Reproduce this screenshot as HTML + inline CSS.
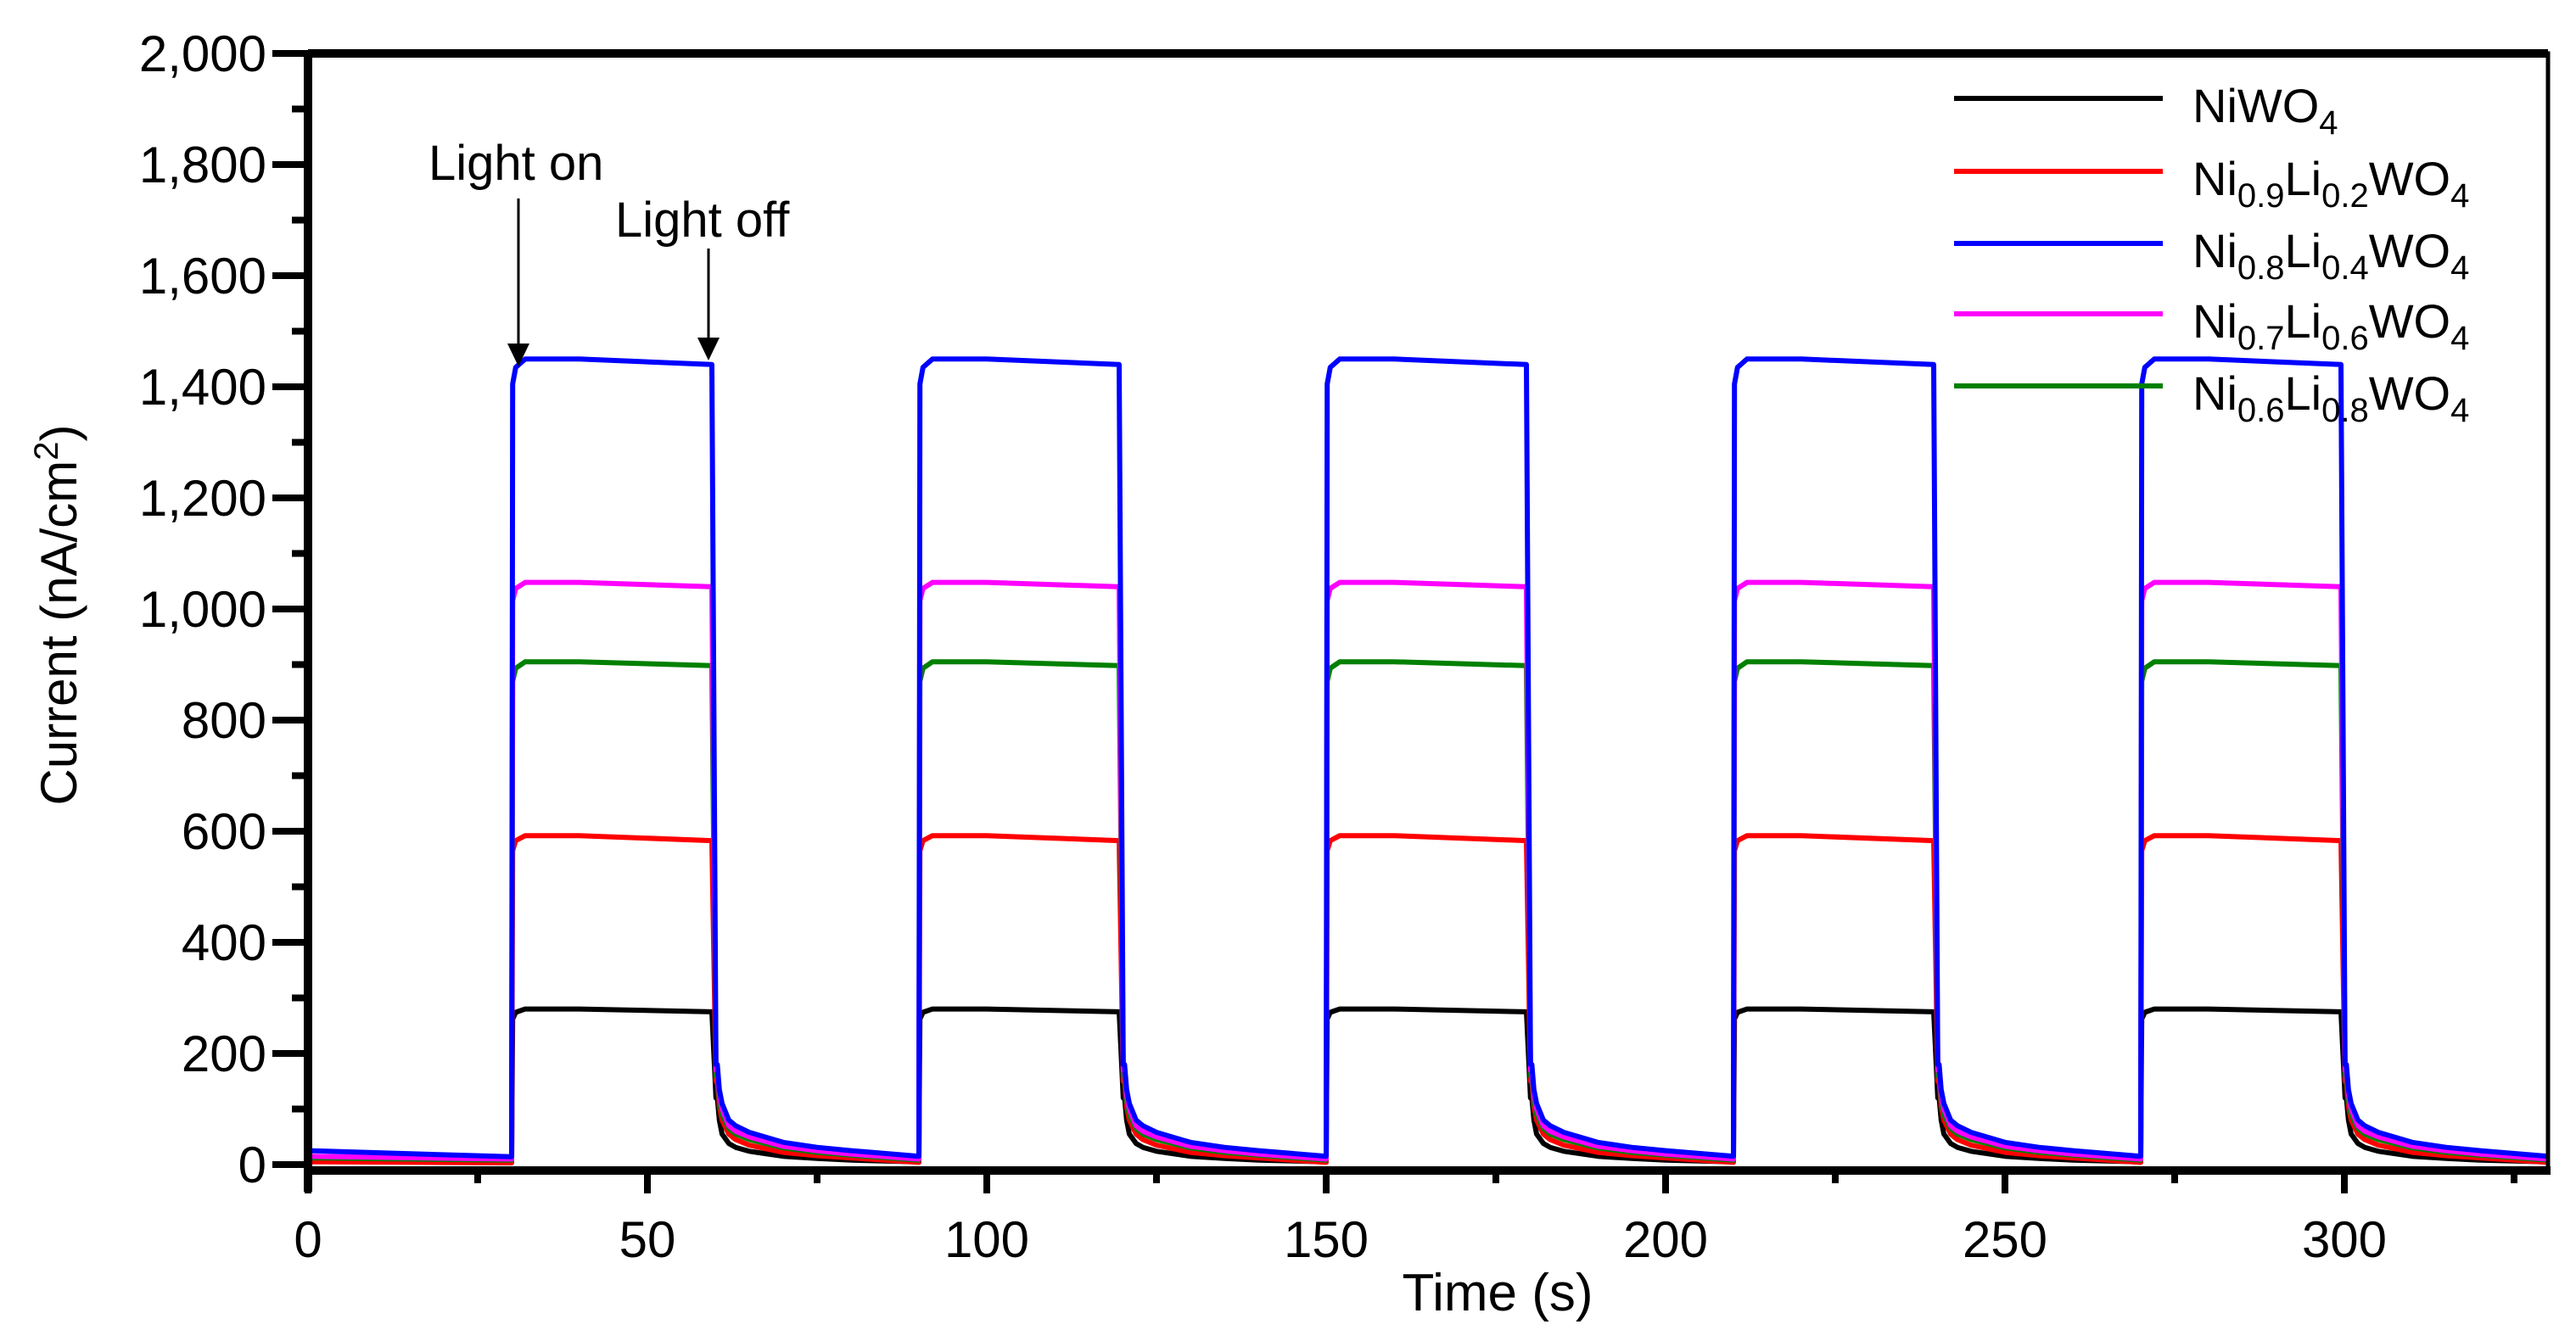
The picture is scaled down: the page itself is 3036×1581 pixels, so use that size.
<!DOCTYPE html>
<html><head><meta charset="utf-8"><style>
html,body{margin:0;padding:0;background:#fff;}
svg{display:block;font-family:"Liberation Sans",sans-serif;}
</style></head><body>
<svg id="chart" width="3036" height="1581" viewBox="0 0 3036 1581" xmlns="http://www.w3.org/2000/svg">
<rect x="0" y="0" width="3036" height="1581" fill="#fff"/>
<g id="series"></g>
<g id="axes"></g>
<text x="1765" y="1545" font-size="62" text-anchor="middle">Time (s)</text>
<text transform="translate(90,725) rotate(-90)" font-size="60" text-anchor="middle">Current (nA/cm<tspan dy="-22" font-size="40">2</tspan><tspan dy="22">)</tspan></text>
<g>
<text x="505" y="212" font-size="58">Light on</text>
<line x1="611" y1="234" x2="611" y2="405" stroke="#000" stroke-width="3"/>
<polygon points="598,405 624,405 611,432" fill="#000"/>
</g>
<g>
<text x="725" y="279" font-size="58">Light off</text>
<line x1="835" y1="293" x2="835" y2="398" stroke="#000" stroke-width="3"/>
<polygon points="822,398 848,398 835,425" fill="#000"/>
</g>
<g id="legend"></g>
</svg>
<script>
const names = ["NiWO4","Ni0.9Li0.2WO4","Ni0.8Li0.4WO4","Ni0.7Li0.6WO4","Ni0.6Li0.8WO4"];
const colors = ["#000000","#ff0000","#0000ff","#ff00ff","#008000"];
const onTimes = [30,90,150,210,270];
const offTimes = [60,120,180,240,300];
const plateauStart = [262,565,1405,1015,870];
const plateauPeak = [280,592,1450,1048,905];
const plateauEnd = [275,583,1440,1040,898];
const decayOffsets = [0.3,0.6,1,2,3,5,10,15,20,30];
const decayBlack = [120,80,55,38,31,24,15,11,8,5];
const decayRed = [150,105,80,55,45,35,22,16,12,4];
const decayBlue = [180,135,110,80,70,58,40,31,25,15];
const decayMagenta = [170,125,100,70,60,50,33,25,19,10];
const decayGreen = [160,115,90,65,55,45,30,22,17,8];
const initialStart = [8,5,25,15,12];
const initialEnd = [6,3,14,10,8];
const decays = [decayBlack,decayRed,decayBlue,decayMagenta,decayGreen];
const xTicks = [0,50,100,150,200,250,300];
const yTicks = [0,200,400,600,800,1000,1200,1400,1600,1800,2000];
const yTickLabels = ["0","200","400","600","800","1,000","1,200","1,400","1,600","1,800","2,000"];

const X0=363,X1=3003,Y0=1373,Y1=63;
const xs = t => X0 + (t-0)/(330-0)*(X1-X0);
const ys = v => Y0 - (v-0)/(2000-0)*(Y0-Y1);
const NS="http://www.w3.org/2000/svg";
function mk(tag,attrs,parent){const e=document.createElementNS(NS,tag);for(const k in attrs)e.setAttribute(k,attrs[k]);parent.appendChild(e);return e;}

const sg=document.getElementById('series');
const order=[0,1,4,3,2];
order.forEach(i=>{
  const pts=[];
  pts.push([0,initialStart[i]]);pts.push([30,initialEnd[i]]);
  for(let c=0;c<onTimes.length;c++){
    const on=onTimes[c],off=offTimes[c];
    pts.push([on+0.15,plateauStart[i]]);
    pts.push([on+0.6,(plateauStart[i]+plateauPeak[i]*2)/3]);
    pts.push([on+2,plateauPeak[i]]);
    pts.push([on+10,plateauPeak[i]]);
    pts.push([off-0.5,plateauEnd[i]]);
    pts.push([off+0.1,decays[i][0]]);
    const nextOn = c+1<onTimes.length?onTimes[c+1]:330;
    decays[i].forEach((v,k)=>{const t=off+decayOffsets[k];if(t<=nextOn)pts.push([t,v]);});
  }
  const d=pts.map((p,k)=>(k?'L':'M')+xs(p[0]).toFixed(1)+','+ys(p[1]).toFixed(1)).join(' ');
  const p=mk('path',{d:d,fill:'none',stroke:colors[i],'stroke-width':6,'stroke-linejoin':'round'},sg);
  
  
});

const ag=document.getElementById('axes');
const frame=mk('rect',{x:X0,y:Y1,width:X1-X0,height:1380-Y1,fill:'none',stroke:'#000','stroke-width':5},ag);


const xl=mk('line',{x1:X0-4,y1:1380,x2:X1+3,y2:1380,stroke:'#000','stroke-width':10},ag);


const yl=mk('line',{x1:X0,y1:Y1-4,x2:X0,y2:1405,stroke:'#000','stroke-width':10},ag);


const tl=mk('line',{x1:X0,y1:Y1,x2:X1,y2:Y1,stroke:'#000','stroke-width':10},ag);


for(let t=0;t<=325;t+=25){
  const major=t%50===0;
  const tk=mk('line',{x1:xs(t),y1:1380,x2:xs(t),y2:major?1407:1395,stroke:'#000','stroke-width':8},ag);
  
  
}
xTicks.forEach(t=>{
  const tx=mk('text',{x:xs(t),y:1482,'font-size':60,'text-anchor':'middle'},ag);
  tx.textContent=t;
  
  
});
for(let v=0;v<=2000;v+=100){
  const major=v%200===0;
  const tk=mk('line',{x1:major?321:344,y1:ys(v),x2:X0,y2:ys(v),stroke:'#000','stroke-width':8},ag);
  
  
}
yTicks.forEach((v,k)=>{
  const tx=mk('text',{x:314,y:ys(v)+21,'font-size':60,'text-anchor':'end'},ag);
  tx.textContent=yTickLabels[k];
  
  
});

const lg=document.getElementById('legend');
const subs=[[null,null],["0.9","0.2"],["0.8","0.4"],["0.7","0.6"],["0.6","0.8"]];
const legY=[116,202,287,370,455];
names.forEach((n,i)=>{
  const g=mk('g',{},lg);
  
  
  mk('line',{x1:2303,y1:legY[i],x2:2549,y2:legY[i],stroke:colors[i],'stroke-width':6},g);
  const tx=mk('text',{x:2584,y:legY[i]+28,'font-size':56},g);
  const s=subs[i];
  if(s[0]===null){
    tx.innerHTML='NiWO<tspan dy="14" font-size="40">4</tspan>';
  } else {
    tx.innerHTML='Ni<tspan dy="14" font-size="40">'+s[0]+'</tspan><tspan dy="-14">Li</tspan><tspan dy="14" font-size="40">'+s[1]+'</tspan><tspan dy="-14">WO</tspan><tspan dy="14" font-size="40">4</tspan>';
  }
});
</script>
</body></html>
